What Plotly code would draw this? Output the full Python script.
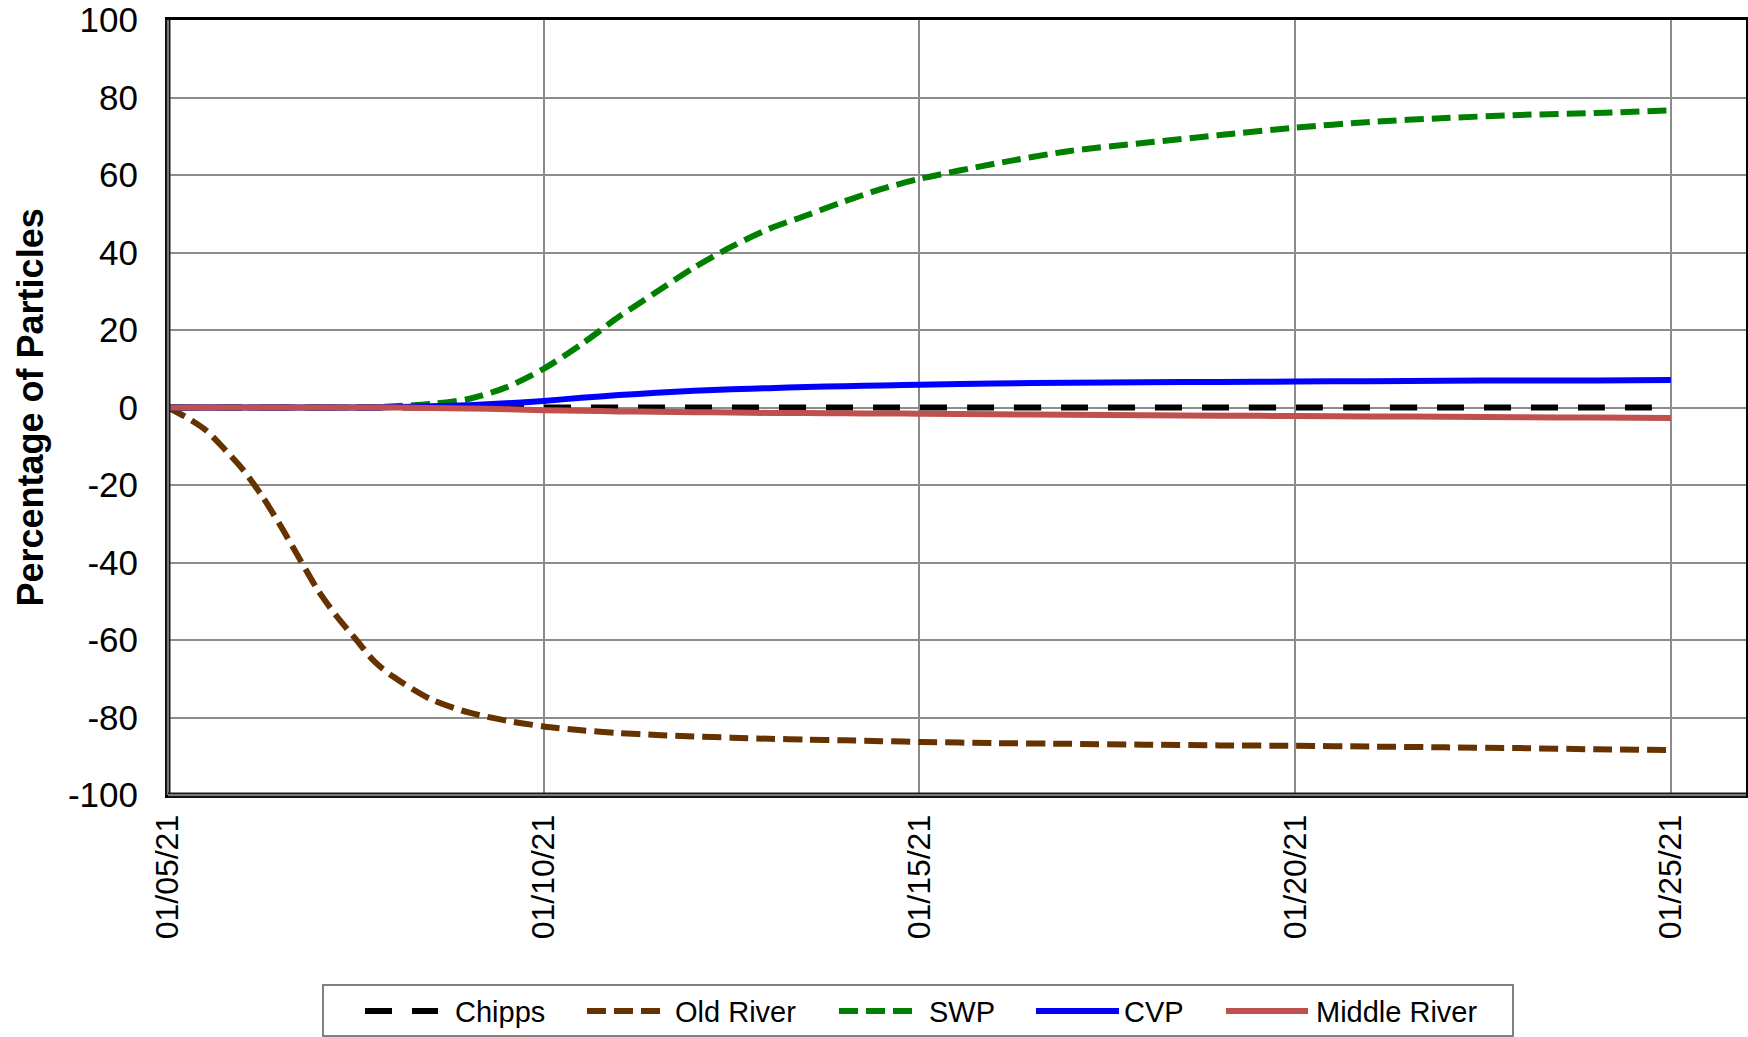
import pandas as pd
import plotly.graph_objects as go

# ---- data -------------------------------------------------------------
START = "2021-01-05"
END = "2021-01-26"

# sample times, in days after the start date
day_offsets = [0, 0.25, 0.5, 0.75, 1.0, 1.25, 1.5, 1.75, 2.0, 2.25, 2.5, 2.75,
               3.0, 3.5, 4.0, 4.5, 5.0, 5.5, 6.0, 6.5, 7.0, 7.5, 8.0, 8.5,
               9.0, 9.5, 10, 11, 12, 13, 14, 15, 16, 17, 18, 19, 20]

chipps = [0, 0, 0, 0, 0, 0, 0, 0, 0, 0, 0, 0,
          0, 0, 0, 0, 0, 0, 0, 0, 0, 0, 0, 0,
          0, 0, 0, 0, 0, 0, 0, 0, 0, 0, 0, 0, 0]

old_river = [0, -2.6, -5.8, -10.7, -16.1, -22.8, -30.6, -39.0, -47.3, -54.0, -59.8, -65.6,
             -69.5, -75.3, -78.7, -80.8, -82.3, -83.3, -84.0, -84.5, -84.9, -85.2, -85.5, -85.7,
             -85.9, -86.1, -86.3, -86.6, -86.8, -87.0, -87.2, -87.3, -87.5, -87.7, -87.9, -88.2, -88.4]

swp = [0, 0, 0, 0, 0, 0, 0, 0, 0, 0, 0.05, 0.1,
       0.3, 0.9, 2.2, 5.2, 10.0, 16.3, 23.4, 29.8, 36.1, 41.5, 46.1, 49.6,
       53.2, 56.4, 59.0, 62.9, 66.2, 68.3, 70.3, 72.2, 73.7, 74.7, 75.5, 76.0, 76.7]

cvp = [0, 0, 0, 0, 0, 0, 0, 0, 0, 0, 0, 0,
       0.1, 0.3, 0.6, 1.1, 1.7, 2.5, 3.2, 3.8, 4.3, 4.7, 5.0, 5.3,
       5.5, 5.7, 5.9, 6.2, 6.4, 6.5, 6.6, 6.7, 6.8, 6.9, 7.0, 7.0, 7.1]

middle_river = [0, 0, 0, 0, 0, 0, 0, 0, 0, 0, 0, 0,
                0, -0.1, -0.25, -0.45, -0.7, -0.85, -1.0, -1.1, -1.2, -1.3, -1.4, -1.45,
                -1.5, -1.55, -1.6, -1.75, -1.9, -2.0, -2.1, -2.2, -2.3, -2.4, -2.5, -2.6, -2.7]

y_ticks = [100, 80, 60, 40, 20, 0, -20, -40, -60, -80, -100]
y_tick_labels = ["100", "80", "60", "40", "20", "0", "-20", "-40", "-60", "-80", "-100"]

times = pd.Timestamp(START) + pd.to_timedelta(day_offsets, unit="D")

# ---- styling ----------------------------------------------------------
FONT = "Arial, Liberation Sans, sans-serif"
GRID = "#8C8C8C"
W, H = 1748, 1037
ML, MR, MT, MB = 168, 2, 20, 242
PW, PH = W - ML - MR, H - MT - MB

series = [
    ("Chipps", chipps, "#000000", "27px,20px"),
    ("Old River", old_river, "#663300", "19px,8px"),
    ("SWP", swp, "#008000", "19px,8px"),
    ("CVP", cvp, "#0000FF", "solid"),
    ("Middle River", middle_river, "#C0504D", "solid"),
]

fig = go.Figure()
for name, values, color, dash in series:
    fig.add_trace(go.Scatter(
        x=times, y=values, name=name, mode="lines",
        line=dict(color=color, width=6, dash=dash, shape="spline", smoothing=0.8),
        showlegend=False,
    ))


def px_x(p):
    return (p - ML) / PW


def px_y(p):
    return (H - MB - p) / PH


shapes = []
# heavier left / bottom frame (dark edge with a grey core)
for x0, y0, x1, y1 in [(0, 0, 0, 1), (0, 0, 1, 0)]:
    shapes.append(dict(type="line", xref="paper", yref="paper", x0=x0, y0=y0, x1=x1, y1=y1,
                       line=dict(color="#1a1a1a", width=5), layer="above"))
    shapes.append(dict(type="line", xref="paper", yref="paper", x0=x0, y0=y0, x1=x1, y1=y1,
                       line=dict(color="#9a9a9a", width=1.5), layer="above"))

# legend box below the plot
shapes.append(dict(type="rect", xref="paper", yref="paper",
                   x0=px_x(323), x1=px_x(1513), y0=px_y(1036), y1=px_y(985),
                   line=dict(color="#808080", width=2), fillcolor="white", layer="above"))

legend_items = [
    ("Chipps", 365, 438, 453),
    ("Old River", 587, 660, 673),
    ("SWP", 839, 912, 927),
    ("CVP", 1036, 1119, 1122),
    ("Middle River", 1226, 1308, 1314),
]
style = {name: (color, dash) for name, _, color, dash in series}
LEG_Y = 1011
annotations = []
for name, s0, s1, tx in legend_items:
    color, dash = style[name]
    shapes.append(dict(type="line", xref="paper", yref="paper",
                       x0=px_x(s0), x1=px_x(s1), y0=px_y(LEG_Y), y1=px_y(LEG_Y),
                       line=dict(color=color, width=6, dash=dash), layer="above"))
    annotations.append(dict(text=name, xref="paper", yref="paper", x=px_x(tx), y=px_y(LEG_Y + 1),
                            xanchor="left", yanchor="middle", showarrow=False,
                            font=dict(family=FONT, size=29, color="black")))

annotations.append(dict(text="<b>Percentage of Particles</b>", xref="paper", yref="paper",
                        x=px_x(30), y=0.5, xanchor="center", yanchor="middle",
                        textangle=-90, showarrow=False,
                        font=dict(family=FONT, size=36, color="black")))

fig.update_layout(
    width=W, height=H,
    margin=dict(l=ML, r=MR, t=MT, b=MB, autoexpand=False),
    paper_bgcolor="white", plot_bgcolor="white",
    font=dict(family=FONT, color="black"),
    shapes=shapes, annotations=annotations,
    showlegend=False,
)

fig.update_xaxes(
    type="date", range=[START, END], tick0=START, dtick=5 * 86400000,
    tickformat="%m/%d/%y", tickangle=-90,
    showgrid=True, gridcolor=GRID, gridwidth=2,
    showline=True, linecolor="black", linewidth=3, mirror=True,
    ticks="", ticklabelstandoff=4,
    tickfont=dict(family=FONT, size=32, color="black"),
    zeroline=False,
)
fig.update_yaxes(
    range=[-100, 100], tickmode="array", tickvals=y_ticks, ticktext=y_tick_labels,
    showgrid=True, gridcolor=GRID, gridwidth=2,
    showline=True, linecolor="black", linewidth=3, mirror=True,
    ticks="", ticklabelstandoff=20, zeroline=False,
    tickfont=dict(family=FONT, size=35, color="black"),
)

fig.write_html("out.html")
